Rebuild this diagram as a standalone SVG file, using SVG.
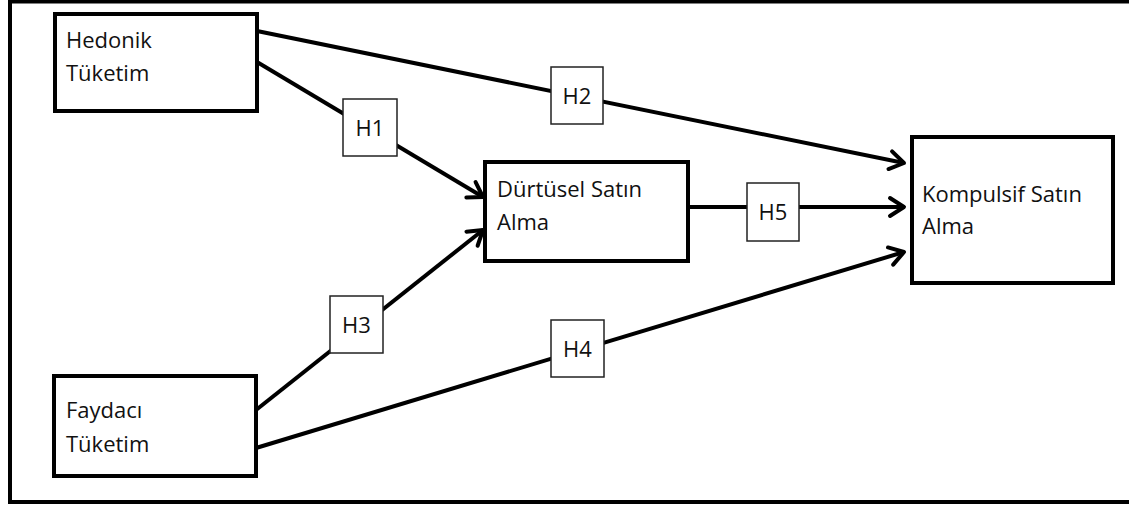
<svg xmlns="http://www.w3.org/2000/svg" width="1129" height="506" viewBox="0 0 1129 506">
<defs>
<marker id="arr" markerUnits="userSpaceOnUse" markerWidth="30" markerHeight="30" viewBox="-20 -15 30 30" refX="0" refY="0" orient="auto">
<path d="M -14 -9 L 0 0 L -14 9" fill="none" stroke="#000" stroke-width="4" stroke-linejoin="round" stroke-linecap="round"/>
</marker>
</defs>
<style>
.node{fill:#fff;stroke:#000;stroke-width:4}
.lbl{fill:#fff;stroke:#222;stroke-width:1.5}
.t{font-family:"Open Sans","Liberation Sans",sans-serif;font-size:22px;fill:#111}
.c{text-anchor:middle}
.edge{fill:none;stroke:#000;stroke-width:4;marker-end:url(#arr)}
</style>
<rect x="0" y="0" width="1129" height="506" fill="#fff"/>
<path d="M 1129 1.5 L 10 1.5 L 10 502 L 1129 502" fill="none" stroke="#000" stroke-width="4"/>
<g id="connectors">
<line class="edge" x1="257" y1="62" x2="483" y2="197"/>
<line class="edge" x1="257" y1="31" x2="904" y2="163"/>
<line class="edge" x1="688" y1="207" x2="904" y2="207"/>
<line class="edge" x1="256" y1="410" x2="483" y2="230"/>
<line class="edge" x1="256" y1="448" x2="904" y2="252"/>
</g>
<g id="hedonik">
<rect class="node" x="55" y="14" width="202" height="97"/>
<text class="t" x="66" y="48">Hedonik</text>
<text class="t" x="66" y="81">Tüketim</text>
</g>
<g id="faydaci">
<rect class="node" x="54" y="376" width="202" height="100"/>
<text class="t" x="66" y="418">Faydacı</text>
<text class="t" x="66" y="452">Tüketim</text>
</g>
<g id="durtusel">
<rect class="node" x="485" y="162" width="203" height="99"/>
<text class="t" x="497" y="197">Dürtüsel Satın</text>
<text class="t" x="497" y="230">Alma</text>
</g>
<g id="kompulsif">
<rect class="node" x="912" y="137" width="201" height="146"/>
<text class="t" x="922" y="202">Kompulsif Satın</text>
<text class="t" x="922" y="234">Alma</text>
</g>
<g id="H1">
<rect class="lbl" x="343" y="99" width="54" height="57"/>
<text class="t c" x="370" y="136">H1</text>
</g>
<g id="H2">
<rect class="lbl" x="551" y="67" width="52" height="57"/>
<text class="t c" x="577" y="104">H2</text>
</g>
<g id="H3">
<rect class="lbl" x="330" y="296" width="53" height="57"/>
<text class="t c" x="356.5" y="333">H3</text>
</g>
<g id="H4">
<rect class="lbl" x="551" y="320" width="53" height="57"/>
<text class="t c" x="577.5" y="357">H4</text>
</g>
<g id="H5">
<rect class="lbl" x="747" y="183" width="52" height="58"/>
<text class="t c" x="773" y="220">H5</text>
</g>
</svg>
